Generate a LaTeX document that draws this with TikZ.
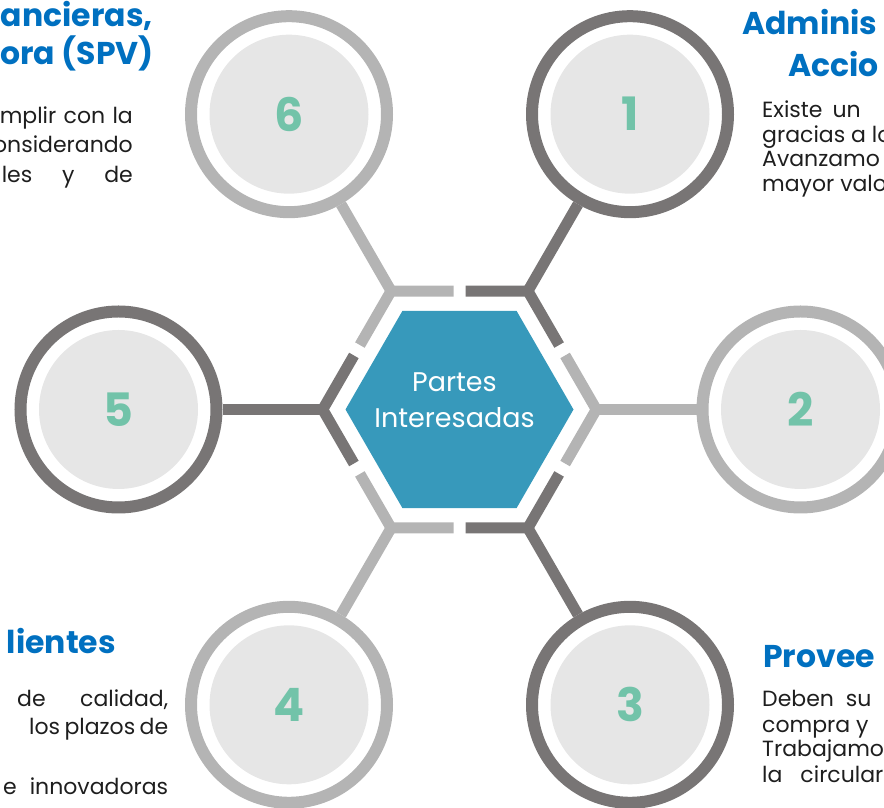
\documentclass[tikz,border=0pt]{standalone}
\usepackage{fontspec}
\setmainfont{Poppins}
\usepackage{tikz}
\usetikzlibrary{shapes.geometric, calc}

\definecolor{darkring}{HTML}{787575}
\definecolor{lightring}{HTML}{B4B4B4}
\definecolor{discgray}{HTML}{E6E6E6}
\definecolor{hubblue}{HTML}{3799BB}
\definecolor{numgreen}{HTML}{72C3A9}
\definecolor{titleblue}{HTML}{0070C0}
\definecolor{bodytext}{HTML}{1E1E1E}

\begin{document}
\begin{tikzpicture}[x=1pt,y=1pt,
  ring/.style={circle,draw=#1,line width=12pt,minimum size=196pt,inner sep=0pt},
  disc/.style={circle,fill=discgray,minimum size=159pt,inner sep=0pt,
    text=numgreen,font=\fontsize{46}{46}\selectfont\bfseries},
  spoke/.style={draw=#1,line width=11pt},
  title/.style={text=titleblue,inner sep=0pt,font=\fontsize{31.5}{36}\selectfont\bfseries},
  body/.style={text=bodytext,inner sep=0pt,font=\fontsize{22}{28}\selectfont}]

  \useasboundingbox (0,0) rectangle (884,808);

  \node[regular polygon,regular polygon sides=6,minimum size=228pt,inner sep=0pt,
    fill=hubblue] (hub) at (459.5,398.5) {};
  \node[text=white,align=center,font=\fontsize{27}{36}\selectfont] (hubtext)
    at ($(hub)+(-5,9)$) {Partes\\Interesadas};

  \foreach \i/\a/\c in {1/60/darkring, 2/0/lightring, 3/-60/darkring,
                        4/-120/lightring, 5/180/darkring, 6/120/lightring} {
    \node[ring=\c] (\i) at ($(hub)+(\a:341)$) {};
    \node[disc] (n\i) at (\i) {\i};
    \coordinate (v\i) at ($(hub)+(\a:136.8)$);
    \draw[spoke=\c] ($(v\i)+({\a+120}:62.4)$) -- (v\i) -- ($(v\i)+({\a-120}:62.4)$);
    \path (v\i) edge[spoke=\c] (\i);
  }

  % 6
  \node[title,anchor=base east] (t6a) at (153,781) {ancieras,};
  \node[title,anchor=base east] (t6b) at (154,743) {ora (SPV)};
  \node[body,anchor=base east] (b6a) at (133,684) {\makebox[133pt][s]{mplir con la}};
  \node[body,anchor=base east] (b6b) at (133,655) {onsiderando};
  \node[body,anchor=base east] (b6c) at (133,625) {\makebox[131pt][s]{les y de}};

  % 1
  \node[title,anchor=base west] (t1a) at (742,773) {Adminis};
  \node[title,anchor=base west] (t1b) at (788,731) {Accio};
  \node[body,anchor=base west] (b1a) at (762,690) {Existe\hspace{10pt}un};
  \node[body,anchor=base west] (b1b) at (762,665) {gracias a lo};
  \node[body,anchor=base west] (b1c) at (762,641) {Avanzamo};
  \node[body,anchor=base west] (b1d) at (762,616) {mayor valo};

  % 4
  \node[title,anchor=base east] (t4a) at (116,154) {lientes};
  \node[body,anchor=base west] (b4a) at (17,101) {\makebox[151pt][s]{de calidad,}};
  \node[body,anchor=base west] (b4b) at (29,73) {\makebox[139pt][s]{los plazos de}};
  \node[body,anchor=base west] (b4c) at (3,13) {\makebox[165pt][s]{e innovadoras}};

  % 3
  \node[title,anchor=base west] (t3a) at (763,140) {Provee};
  \node[body,anchor=base west] (b3a) at (762,101) {Deben\hspace{12pt}su};
  \node[body,anchor=base west] (b3b) at (762,75) {compra y};
  \node[body,anchor=base west] (b3c) at (762,51) {Trabajamo};
  \node[body,anchor=base west] (b3d) at (762,25) {la\hspace{18pt}circular};

\end{tikzpicture}
\end{document}
